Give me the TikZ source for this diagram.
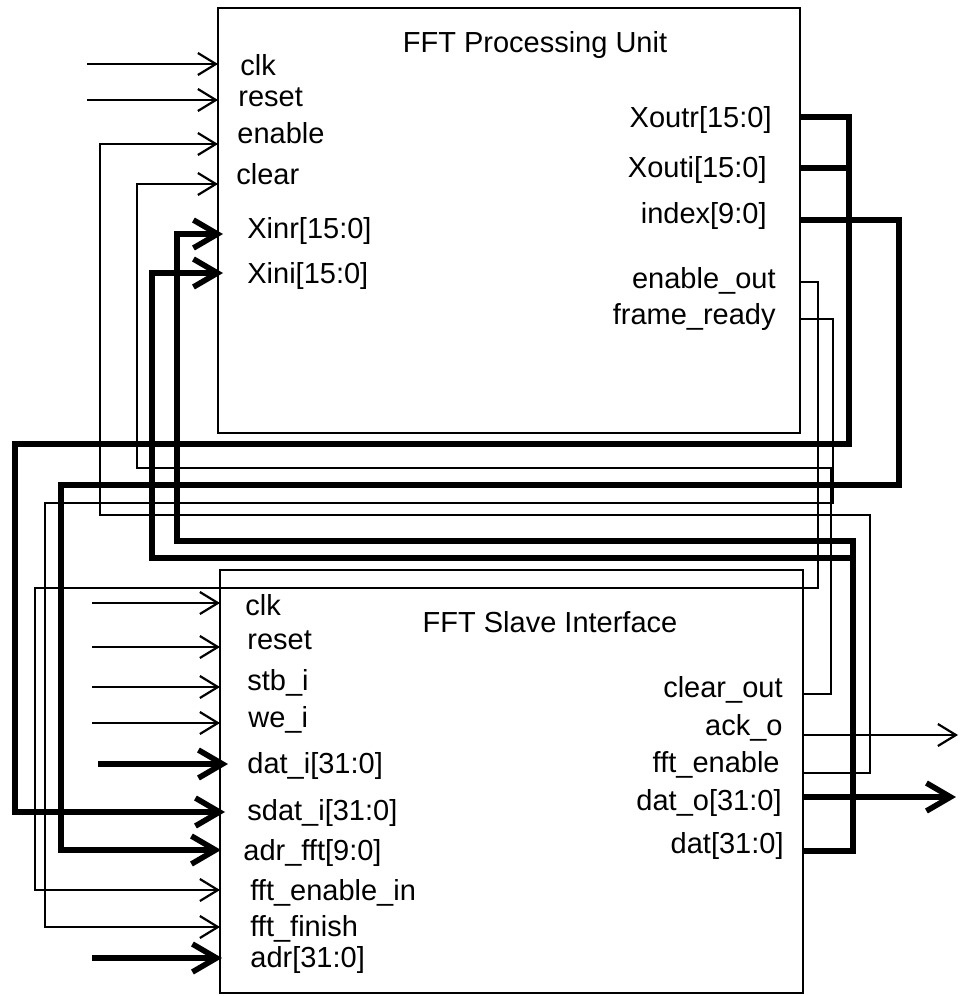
\documentclass[tikz,border=0pt]{standalone}
\usepackage{fontspec}
\setmainfont{Liberation Sans}
\usetikzlibrary{arrows.meta}

\tikzset{
  blk/.style={draw, line width=1.3pt, anchor=north west, outer sep=0pt},
  lbl/.style={inner sep=0pt},
  sig/.style={line width=1.1pt},
  bus/.style={line width=2.8pt},
  sigin/.style={sig, -{Straight Barb[length=9pt, width=11pt]}},
  busin/.style={bus, -{Straight Barb[length=12pt, width=14pt]}}
}

\begin{document}
\begin{tikzpicture}[x=0.5pt, y=-0.5pt, font=\fontsize{14.5}{17}\selectfont]
    \useasboundingbox (0,0) rectangle (959,996);
    % the two blocks
    \node[blk, minimum width=291pt, minimum height=212.5pt] (pu) at (218,8) {};
    \node[blk, minimum width=291.5pt, minimum height=211.5pt] (si) at (220,570) {};
    \node[lbl, anchor=base] (pu-title) at (535,52) {FFT Processing Unit};
    \node[lbl, anchor=base] (si-title) at (550,632) {FFT Slave Interface};

    % port labels
    \foreach \n/\x/\y/\t in {clk/240/75/clk, rst/238/106/reset, en/237/143/enable,
        clr/236/184/clear, xr/247/238/{Xinr[15:0]}, xi/247/283/{Xini[15:0]}}
        \node[lbl, anchor=base west] (pl-\n) at (\x,\y) {\t};
    \foreach \n/\x/\y/\t in {xor/772/127/{Xoutr[15:0]}, xoi/767/177/{Xouti[15:0]},
        idx/767/223/{index[9:0]}, eno/776/288/enable\_out, frdy/776/324/frame\_ready}
        \node[lbl, anchor=base east] (pr-\n) at (\x,\y) {\t};
    \foreach \n/\x/\y/\t in {clk/245/615/clk, rst/247/649/reset, stb/247/690/stb\_i,
        we/248/727/we\_i, dati/247/773/{dat\_i[31:0]}, sdat/247/820/{sdat\_i[31:0]},
        adrf/243/860/{adr\_fft[9:0]}, fenin/250/900/fft\_enable\_in,
        ffin/250/936/fft\_finish, adr/250/967/{adr[31:0]}}
        \node[lbl, anchor=base west] (sl-\n) at (\x,\y) {\t};
    \foreach \n/\x/\y/\t in {clro/783/697/clear\_out, ack/783/735/ack\_o,
        fen/780/772/fft\_enable, dato/782/810/{dat\_o[31:0]}, dat/784/853/{dat[31:0]}}
        \node[lbl, anchor=base east] (sr-\n) at (\x,\y) {\t};

    % port points
    \coordinate (pu-en) at (218,144);
    \coordinate (pu-clr) at (218,184);
    \coordinate (pu-xinr) at (223,234);
    \coordinate (pu-xini) at (223,273);
    \coordinate (pu-xoutr) at (800,117);
    \coordinate (pu-xouti) at (800,168);
    \coordinate (pu-idx) at (800,220);
    \coordinate (pu-eno) at (800,282);
    \coordinate (pu-frdy) at (800,319);
    \coordinate (si-sdat) at (225,812);
    \coordinate (si-adrfft) at (221,850);
    \coordinate (si-fenin) at (220,890);
    \coordinate (si-ffin) at (220,927);
    \coordinate (si-clro) at (803,694);
    \coordinate (si-ack) at (803,735);
    \coordinate (si-fen) at (803,773);
    \coordinate (si-dato) at (803,797);
    \coordinate (si-dat) at (803,851);
    \coordinate (ack-dst) at (958,735);
    \coordinate (dato-dst) at (956,797);

    % outside inputs
    \foreach \n/\y in {clk/64, rst/100}
        \draw[sigin] (87,\y) coordinate (pu-\n-src) -- (218,\y) coordinate (pu-\n);
    \foreach \n/\y in {clk/603, rst/647, stb/687, we/723}
        \draw[sigin] (92,\y) coordinate (si-\n-src) -- (220,\y) coordinate (si-\n);
    \draw[busin] (98,764) coordinate (si-dati-src) -- (228,764) coordinate (si-dati);
    \draw[busin] (92,958) coordinate (si-adr-src) -- (222,958) coordinate (si-adr);

    % outputs
    \draw[sigin] (si-ack) -- (ack-dst);
    \draw[busin] (si-dato) -- (dato-dst);

    % processing unit -> slave interface
    \draw[busin] (pu-xoutr) -| (849,444) -- (15,444) |- (si-sdat);
    \draw[bus] (pu-xouti) -- (849,168);
    \draw[busin] (pu-idx) -| (899,485) -- (61,485) |- (si-adrfft);
    \draw[sigin] (pu-eno) -| (818,588) -- (35,588) |- (si-fenin);
    \draw[sigin] (pu-frdy) -| (833,503) -- (45,503) |- (si-ffin);

    % slave interface -> processing unit
    \draw[sigin] (si-clro) -| (831,468) -- (137,468) |- (pu-clr);
    \draw[sigin] (si-fen) -| (870,515) -- (100,515) |- (pu-en);
    \draw[busin] (si-dat) -| (853,541) -- (177,541) |- (pu-xinr);
    \draw[busin] (853,558) -- (152,558) |- (pu-xini);
\end{tikzpicture}
\end{document}
